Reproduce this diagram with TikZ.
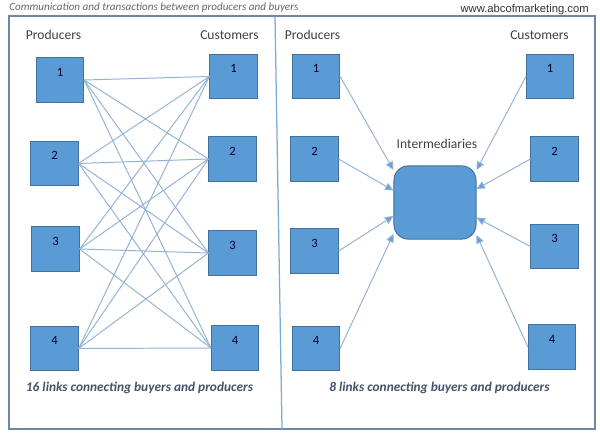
\documentclass[tikz,border=0pt]{standalone}
\usepackage{fontspec}
\setmainfont{Carlito}
\newfontfamily\urlfont{Liberation Sans}
\usetikzlibrary{arrows.meta}
\definecolor{boxfill}{HTML}{5B9BD5}
\definecolor{boxline}{HTML}{41719C}
\definecolor{linkline}{HTML}{94B4D6}
\definecolor{framecol}{HTML}{6F87A6}
\definecolor{dividercol}{HTML}{7FA9D9}
\definecolor{capcol}{HTML}{44546A}
\tikzset{
  box/.style={draw=boxline,fill=boxfill,line width=.7pt,minimum width=1.18cm,minimum height=1.11cm,inner sep=0pt},
  numtext/.style={text=black!80!blue,font=\fontsize{9}{10}\selectfont,yshift=.2cm},
  head/.style={text=black!75,font=\fontsize{9.65}{11}\selectfont,inner sep=0pt},
  capt/.style={text=capcol,font=\fontsize{9.5}{11}\selectfont\bfseries\itshape,inner sep=0pt},
  link/.style={draw=linkline,line width=.7pt},
  arrowlink/.style={link,-{Triangle[length=6pt,width=5.5pt,fill=boxfill!80!linkline]}}
}
\begin{document}
\begin{tikzpicture}[x=.025cm,y=-.025cm]
\useasboundingbox (0,0) rectangle (600,433);
\fill[white] (0,0) rectangle (600,433);
\draw[framecol,line width=1.2pt] (9,16) rectangle (595,429);
\draw[dividercol,line width=.9pt] (275,16) -- (282,429);
\node[anchor=west,inner sep=0pt,text=black!60,font=\fontsize{7.9}{9}\selectfont\itshape] (title) at (9,7.5) {Communication and transactions between producers and buyers};
\node[anchor=east,inner sep=0pt,text=black!80,font=\fontsize{8}{9}\selectfont\urlfont] (site) at (589,10) {www.abcofmarketing.com};
\node[head] (lefthp) at (53.5,35) {Producers};
\node[head] (lefthc) at (229.5,35) {Customers};
\node[head] (righthp) at (312.5,35) {Producers};
\node[head] (righthc) at (539.5,35) {Customers};
\node[head] (imhead) at (437,144) {Intermediaries};
\foreach \nam/\x/\y/\num in {
  lp1/60/80/1,lp2/54.5/163.5/2,lp3/55.5/249/3,lp4/54.5/348.5/4,
  lc1/233.5/76.5/1,lc2/232.5/159/2,lc3/232.5/253/3,lc4/235/348/4,
  rp1/316/76.5/1,rp2/314.5/159/2,rp3/314.5/251/3,rp4/316/348.5/4,
  rc1/550/76.5/1,rc2/554.5/159/2,rc3/554.5/246.5/3,rc4/552/347/4}
  \node[box,label={[numtext]center:\num}] (\nam) at (\x,\y) {};
\node[box,rounded corners=.36cm,minimum width=2.05cm,minimum height=1.83cm] (im) at (435,202.5) {};
\foreach \a in {1,2,3,4}
  \foreach \b in {1,2,3,4}
    \draw[link] (lp\a.east) -- (lc\b.west);
\foreach \a/\ang in {1/142,2/164,3/198,4/217}
  \draw[arrowlink] (rp\a.east) -- (im.\ang);
\foreach \a/\ang in {1/38,2/18,3/340,4/322}
  \draw[arrowlink] (rc\a.west) -- (im.\ang);
\node[capt] (leftcap) at (139.5,388) {16 links connecting buyers and producers};
\node[capt] (rightcap) at (439.5,388) {8 links connecting buyers and producers};
\end{tikzpicture}
\end{document}
